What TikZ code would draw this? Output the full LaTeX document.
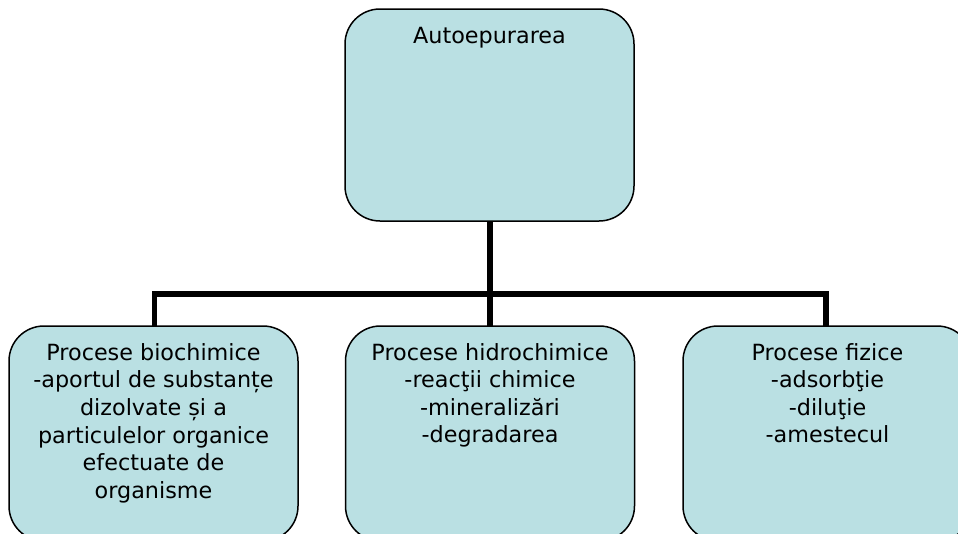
\documentclass[tikz,border=0pt]{standalone}
\usepackage{fontspec}
\setmainfont{DejaVu Sans}
\definecolor{boxfill}{RGB}{186,224,227}
\begin{document}
\begin{tikzpicture}[x=1pt,y=-1pt,
  box/.style={draw=black, line width=1.5pt, fill=boxfill, rounded corners=35pt,
    minimum width=289pt, inner sep=0pt},
  lbl/.style={anchor=north, align=center, inner sep=0pt,
    font=\fontsize{22.3}{27.6}\selectfont},
  conn/.style={line width=5.5pt, line join=miter}]
\useasboundingbox (0,0) rectangle (958,533);

% connectors (drawn first, boxes sit on top)
\coordinate (bus) at (490,294);
\coordinate (tops) at (490,221);
\draw[conn] (tops) -- (490,326);
\draw[conn] (154.5,326) |- (bus) -| (826,326);

% root
\node[box, minimum height=212pt] (root) at (489.5,115) {};
\node[lbl] (rootlbl) at ([yshift=-19pt]root.north) {Autoepurarea};

% children
\node[box, minimum height=215pt] (bio) at (153.5,433.5) {};
\node[box, minimum height=215pt] (hidro) at (490,433.5) {};
\node[box, minimum height=215pt] (fiz) at (827.5,433.5) {};

\node[lbl] (biolbl) at ([yshift=-17.8pt]bio.north)
  {Procese biochimice\\-aportul de substanțe\\dizolvate și a\\particulelor organice\\efectuate de\\organisme};
\node[lbl] (hidrolbl) at ([yshift=-17.8pt]hidro.north)
  {Procese hidrochimice\\-reacţii chimice\\-mineralizări\\-degradarea};
\node[lbl] (fizlbl) at ([yshift=-17.8pt]fiz.north)
  {Procese fizice\\-adsorbţie\\-diluţie\\-amestecul};
\end{tikzpicture}
\end{document}
